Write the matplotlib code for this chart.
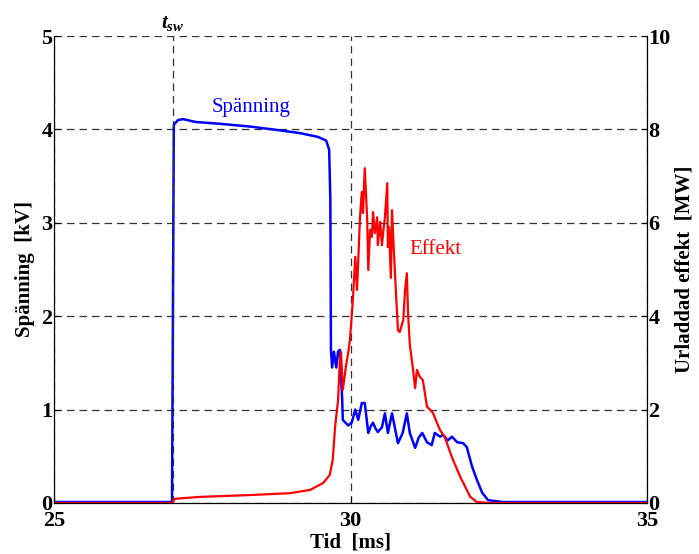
import numpy as np
import matplotlib.pyplot as plt

plt.rcParams['font.family'] = ['Liberation Serif', 'DejaVu Serif']
plt.rcParams['mathtext.fontset'] = 'custom'
plt.rcParams['mathtext.it'] = 'Liberation Serif:italic:bold'
plt.rcParams['mathtext.rm'] = 'Liberation Serif:bold'

# spänning [kV]
t_u = [25.0, 26.99, 27.02, 27.09, 27.18, 27.38, 27.80, 28.31, 28.81, 29.15, 29.45,
       29.59, 29.64, 29.66, 29.67, 29.69, 29.72, 29.76, 29.79, 29.82, 29.86, 29.87,
       29.96, 30.02, 30.08, 30.13, 30.19, 30.24, 30.30, 30.34, 30.38, 30.42, 30.46,
       30.53, 30.58, 30.63, 30.70, 30.75, 30.80, 30.88, 30.95, 31.00, 31.09, 31.15,
       31.21, 31.29, 31.37, 31.42, 31.51, 31.56, 31.64, 31.71, 31.80, 31.90, 31.96,
       32.05, 32.13, 32.22, 32.32, 32.57, 33.5, 35.0]
u = [0.01, 0.01, 4.05, 4.10, 4.11, 4.08, 4.06, 4.03, 3.99, 3.96, 3.92,
     3.88, 3.78, 3.24, 1.64, 1.45, 1.62, 1.45, 1.62, 1.64, 1.10, 0.89,
     0.83, 0.86, 1.00, 0.89, 1.07, 1.07, 0.75, 0.82, 0.86, 0.80, 0.76,
     0.81, 0.96, 0.75, 0.96, 0.80, 0.64, 0.75, 0.96, 0.75, 0.59, 0.70,
     0.75, 0.65, 0.62, 0.75, 0.71, 0.73, 0.67, 0.71, 0.65, 0.64, 0.60,
     0.39, 0.25, 0.11, 0.03, 0.01, 0.01, 0.01]

# urladdad effekt [MW]
t_p = [25.0, 26.99, 27.04, 27.46, 28.31, 28.98, 29.32, 29.54, 29.65, 29.70, 29.74,
       29.79, 29.82, 29.84, 29.87, 29.92, 29.96, 29.99, 30.04, 30.08, 30.11, 30.16,
       30.19, 30.21, 30.24, 30.28, 30.30, 30.33, 30.36, 30.38, 30.41, 30.45, 30.46,
       30.50, 30.53, 30.55, 30.58, 30.62, 30.63, 30.65, 30.68, 30.70, 30.73, 30.77,
       30.80, 30.83, 30.89, 30.92, 30.95, 30.97, 31.00, 31.05, 31.09, 31.12, 31.17,
       31.22, 31.29, 31.34, 31.39, 31.46, 31.51, 31.59, 31.71, 31.85, 32.02, 32.13,
       32.35, 35.0]
p = [0.0, 0.0, 0.09, 0.13, 0.17, 0.21, 0.28, 0.43, 0.60, 0.92, 1.63,
     2.20, 3.06, 3.23, 2.42, 2.90, 3.21, 3.49, 4.35, 5.27, 4.56, 6.12,
     6.66, 6.21, 7.17, 6.12, 4.99, 5.85, 5.70, 6.23, 5.78, 6.12, 5.52,
     6.02, 5.52, 5.78, 6.12, 6.85, 5.48, 5.91, 4.82, 6.27, 5.42, 4.41,
     3.70, 3.66, 3.92, 4.56, 4.92, 4.07, 3.40, 2.90, 2.46, 2.85, 2.70,
     2.63, 2.06, 2.00, 1.93, 1.71, 1.56, 1.41, 0.98, 0.56, 0.13, 0.02,
     0.0, 0.0]

t_sw = 27.0

fig = plt.figure(figsize=(6.99, 5.54), dpi=100)
ax = fig.add_axes([0.0773, 0.0921, 0.8483, 0.8429])
ax2 = ax.twinx()

ax.plot(t_u, u, color='#0000ff', lw=1.8)
ax2.plot(t_p, p, color='#ff0000', lw=1.6)

ax.set_xlim(25, 35)
ax.set_ylim(0, 5)
ax2.set_ylim(0, 10)
ax.set_xticks([25, 30, 35])
ax.set_yticks([0, 1, 2, 3, 4, 5])
ax2.set_yticks([0, 2, 4, 6, 8, 10])

dash = dict(color='#333333', lw=0.9, ls=(0, (6, 4)))
ax.grid(True, **dash)
ax.axvline(t_sw, **dash)
ax.text(t_sw, 5.03, r'$t_{sw}$', ha='center', va='bottom', fontsize=15)

for a in (ax, ax2):
    a.spines['top'].set_visible(False)
    a.tick_params(direction='in', length=4, width=0.8, labelsize=16)
    for lab in a.get_xticklabels() + a.get_yticklabels():
        lab.set_fontweight('bold')
ax.tick_params(axis='y', pad=1)
ax.tick_params(axis='x', pad=6)
ax2.tick_params(axis='y', pad=1)

ax.set_xlabel('Tid  [ms]', fontsize=15, fontweight='bold', labelpad=1)
ax.set_ylabel('Spänning  [kV]', fontsize=15, fontweight='bold', labelpad=5)
ax2.set_ylabel('Urladdad effekt  [MW]', fontsize=15, fontweight='bold', labelpad=3)

ax.text(28.32, 4.23, 'Spänning', color='#0000ff', fontsize=15, ha='center', va='center')
ax.text(31.43, 2.71, 'Effekt', color='#ff0000', fontsize=15, ha='center', va='center')

fig.savefig('out.png', dpi=100)
